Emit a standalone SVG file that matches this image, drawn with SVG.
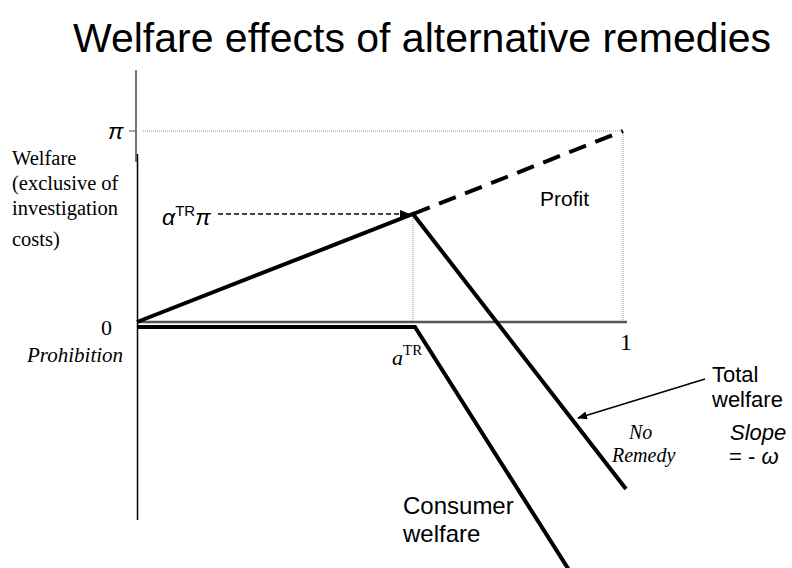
<svg xmlns="http://www.w3.org/2000/svg" width="792" height="568" viewBox="0 0 792 568">
<style>
.sans{font-family:"Liberation Sans",Arial,sans-serif;fill:#000}
.serif{font-family:"Liberation Serif","Times New Roman",serif;fill:#000}
.thick{stroke:#000;stroke-width:4;fill:none}
.dot{stroke:#999;stroke-width:1;stroke-dasharray:1 1;fill:none}
</style>
<defs>
<marker id="ah" markerWidth="10" markerHeight="8" refX="9" refY="4" orient="auto" markerUnits="userSpaceOnUse">
<path d="M0,0 L10,4 L0,8 Z" fill="#000"/>
</marker>
</defs>
<rect width="792" height="568" fill="#fff"/>
<text class="sans" x="422" y="52" font-size="41" text-anchor="middle">Welfare effects of alternative remedies</text>
<g id="axes">
<line x1="136" y1="70" x2="136" y2="162" stroke="#777" stroke-width="2"/>
<line x1="137.5" y1="154" x2="137.5" y2="520" stroke="#000" stroke-width="1.5"/>
<line x1="129" y1="131" x2="136" y2="131" stroke="#555" stroke-width="1"/>
<line x1="137" y1="322" x2="627" y2="322" stroke="#555" stroke-width="2.5"/>
</g>
<g id="guides">
<line class="dot" x1="143" y1="131" x2="623" y2="131"/>
<line class="dot" x1="623" y1="131" x2="623" y2="321"/>
<line class="dot" x1="413" y1="216" x2="413" y2="321"/>
</g>
<g id="connectors">
<polyline class="thick" points="137,327 415,327 569,570"/>
<polyline class="thick" points="137,322 413,214 626,489"/>
<line x1="413" y1="214" x2="623" y2="131" stroke="#000" stroke-width="4" stroke-dasharray="18 10"/>
<line x1="218" y1="214" x2="409" y2="214" stroke="#000" stroke-width="1.5" stroke-dasharray="5 3" marker-end="url(#ah)"/>
<line x1="705" y1="379" x2="578" y2="418" stroke="#000" stroke-width="1.5" marker-end="url(#ah)"/>
</g>
<g id="labels">
<text class="sans" x="108" y="139" font-size="23" font-style="italic">π</text>
<text class="serif" x="12" y="165" font-size="20.5">Welfare</text>
<text class="serif" x="12" y="190" font-size="20.5">(exclusive of</text>
<text class="serif" x="12" y="215" font-size="20.5">investigation</text>
<text class="serif" x="12" y="246" font-size="20.5">costs)</text>
<text class="sans" x="162" y="225" font-size="23" font-style="italic">α<tspan font-style="normal" font-size="15" dy="-9">TR</tspan><tspan dy="9">π</tspan></text>
<text class="sans" x="540" y="206" font-size="21">Profit</text>
<text class="serif" x="101" y="335" font-size="22">0</text>
<text class="serif" x="27" y="362" font-size="21" font-style="italic">Prohibition</text>
<text class="serif" x="620" y="350" font-size="24">1</text>
<text class="serif" x="392" y="365" font-size="22" font-style="italic">a<tspan font-style="normal" font-size="15" dy="-10">TR</tspan></text>
<text class="sans" x="712" y="382" font-size="22">Total</text>
<text class="sans" x="712" y="407" font-size="22">welfare</text>
<text class="serif" x="629" y="439" font-size="20" font-style="italic">No</text>
<text class="serif" x="612" y="462" font-size="20" font-style="italic">Remedy</text>
<text class="sans" x="730" y="440" font-size="22" font-style="italic">Slope</text>
<text class="sans" x="729" y="464" font-size="22">= - <tspan font-style="italic">ω</tspan></text>
<text class="sans" x="403" y="514" font-size="24">Consumer</text>
<text class="sans" x="403" y="542" font-size="24">welfare</text>
</g>
</svg>
